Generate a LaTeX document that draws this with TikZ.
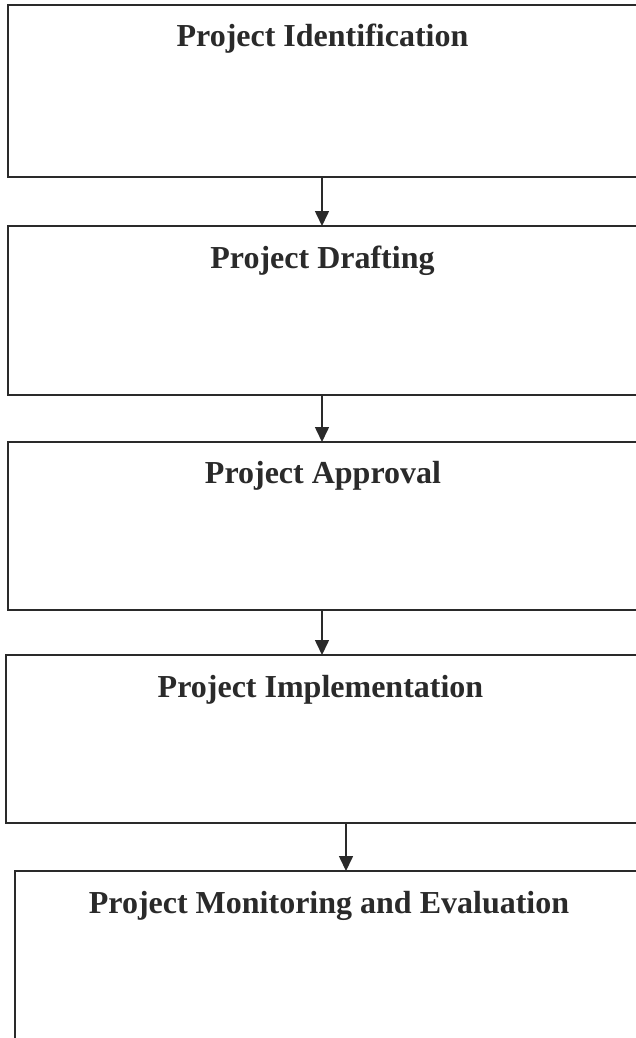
\documentclass[tikz,border=0pt]{standalone}
\usepackage{fontspec}
\setmainfont{Liberation Serif}
\usetikzlibrary{arrows.meta}
\definecolor{ink}{HTML}{2A2A2A}
\begin{document}
\begin{tikzpicture}[x=1pt,y=1pt,
  stagebox/.style={draw=ink,line width=1.8pt,fill=white,anchor=north west,inner sep=0pt,outer sep=0pt},
  title/.style={anchor=base,text=ink,font=\bfseries\fontsize{32}{38}\selectfont,inner sep=0pt},
  conn/.style={draw=ink,line width=1.6pt,-{Triangle[width=14pt,length=15pt]}}]
\useasboundingbox (0,0) rectangle (635,-1038);
\node[stagebox,minimum width=640pt,minimum height=172pt] (b1) at (8,-5) {};
\node[stagebox,minimum width=640pt,minimum height=169pt] (b2) at (8,-226) {};
\node[stagebox,minimum width=640pt,minimum height=168pt] (b3) at (8,-442) {};
\node[stagebox,minimum width=640pt,minimum height=168pt] (b4) at (6,-655) {};
\node[stagebox,minimum width=640pt,minimum height=190pt] (b5) at (15,-871) {};
\node[title] (t1) at (322.5,-47) {Project Identification};
\node[title] (t2) at (322.5,-268) {Project Drafting};
\node[title] (t3) at (323,-483) {Project Approval};
\node[title] (t4) at (320.5,-697) {Project Implementation};
\node[title] (t5) at (329,-913) {Project Monitoring and Evaluation};
\coordinate (ax) at (322,0);
\coordinate (bx) at (346,0);
\draw[conn] (b1.south -| ax) -- (b2.north -| ax);
\draw[conn] (b2.south -| ax) -- (b3.north -| ax);
\draw[conn] (b3.south -| ax) -- (b4.north -| ax);
\draw[conn] (b4.south -| bx) -- (b5.north -| bx);
\end{tikzpicture}
\end{document}
